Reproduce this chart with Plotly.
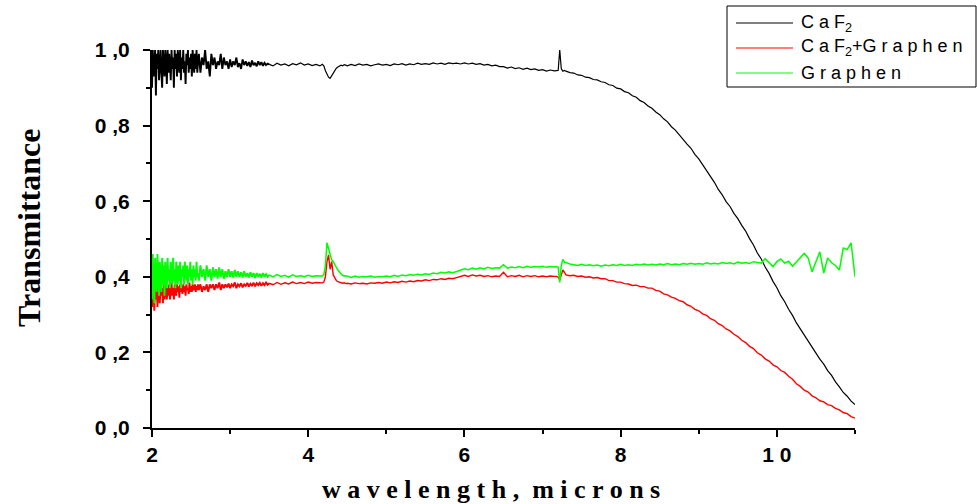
import numpy as np
import plotly.graph_objects as go

# Wavelength sampling in microns: finer steps where the spectra are noisy or sharp
wl_seg1a = np.linspace(2.00, 2.59, 60)
wl_seg1b = np.linspace(2.60, 3.48, 45)
wl_seg2 = np.linspace(3.50, 4.15, 14)
wl_seg3 = np.linspace(4.18, 4.48, 16)
wl_seg4 = np.linspace(4.50, 7.15, 54)
wl_seg5 = np.linspace(7.18, 7.28, 6)
wl_seg6 = np.linspace(7.30, 11.00, 75)

# ---- CaF2 substrate transmittance ----
caf2_seg1a = [
    0.90, 1.00, 0.93, 0.97, 1.00, 0.88, 0.99, 0.95, 1.00, 0.92,
    0.98, 1.00, 0.94, 0.90, 1.00, 0.96, 0.93, 1.00, 0.97, 0.91,
    1.00, 0.94, 0.99, 0.96, 0.92, 1.00, 0.95, 0.98, 0.90, 1.00,
    0.95, 0.99, 0.93, 1.00, 0.96, 0.94, 1.00, 0.92, 0.98, 0.95,
    1.00, 0.94, 0.97, 0.91, 0.99, 0.96, 1.00, 0.94, 0.98, 0.95,
    0.99, 0.93, 1.00, 0.96, 0.94, 0.99, 0.95, 1.00, 0.94, 0.97]
caf2_seg1b = [
    0.99, 0.94, 0.98, 0.96, 1.00, 0.95, 0.97, 0.93, 0.99, 0.96,
    0.98, 0.95, 0.97, 0.96, 0.99, 0.95, 0.98, 0.96, 0.97, 0.95,
    0.975, 0.955, 0.97, 0.96, 0.98, 0.955, 0.965, 0.95, 0.975, 0.96,
    0.97, 0.958, 0.968, 0.955, 0.972, 0.96, 0.966, 0.957, 0.97, 0.96,
    0.968, 0.958, 0.966, 0.96, 0.964]
caf2_seg2 = [0.962, 0.958, 0.965, 0.960, 0.963, 0.958, 0.964, 0.961, 0.966, 0.960,
             0.963, 0.959, 0.962, 0.958]
caf2_seg3 = [0.962, 0.958, 0.945, 0.935, 0.928, 0.925, 0.932, 0.940, 0.948, 0.952,
             0.955, 0.957, 0.960, 0.958, 0.961, 0.960]
caf2_seg4 = [
    0.958, 0.962, 0.959, 0.963, 0.960, 0.962, 0.958, 0.961, 0.963, 0.960,
    0.962, 0.959, 0.963, 0.961, 0.964, 0.960, 0.963, 0.961, 0.965, 0.962,
    0.964, 0.962, 0.966, 0.963, 0.965, 0.962, 0.966, 0.964, 0.965, 0.963,
    0.966, 0.963, 0.965, 0.962, 0.964, 0.960, 0.962, 0.958, 0.960, 0.956,
    0.956, 0.952, 0.955, 0.951, 0.953, 0.949, 0.952, 0.948, 0.950, 0.946,
    0.948, 0.944, 0.947, 0.945]
caf2_seg5 = [0.945, 0.946, 1.00, 0.950, 0.944, 0.946]
caf2_seg6 = [
    0.944, 0.940, 0.939, 0.934, 0.933, 0.928, 0.927, 0.922, 0.921, 0.916,
    0.914, 0.908, 0.906, 0.899, 0.897, 0.890, 0.887, 0.879, 0.875, 0.866,
    0.861, 0.852, 0.846, 0.836, 0.829, 0.818, 0.810, 0.797, 0.788, 0.775,
    0.765, 0.751, 0.740, 0.724, 0.712, 0.696, 0.683, 0.665, 0.650, 0.631,
    0.617, 0.599, 0.586, 0.568, 0.554, 0.536, 0.521, 0.501, 0.484, 0.463,
    0.447, 0.426, 0.409, 0.388, 0.371, 0.350, 0.334, 0.314, 0.298, 0.278,
    0.262, 0.244, 0.230, 0.212, 0.199, 0.182, 0.169, 0.152, 0.139, 0.122,
    0.109, 0.094, 0.084, 0.071, 0.062]

# ---- CaF2 + graphene transmittance ----
caf2_gr_seg1a = [
    0.32, 0.39, 0.35, 0.31, 0.40, 0.34, 0.37, 0.32, 0.38, 0.35,
    0.33, 0.38, 0.35, 0.37, 0.33, 0.385, 0.34, 0.36, 0.38, 0.34,
    0.37, 0.35, 0.38, 0.34, 0.36, 0.385, 0.35, 0.37, 0.34, 0.38,
    0.36, 0.35, 0.38, 0.36, 0.375, 0.345, 0.38, 0.36, 0.37, 0.355,
    0.38, 0.36, 0.375, 0.35, 0.38, 0.365, 0.37, 0.355, 0.385, 0.36,
    0.375, 0.36, 0.38, 0.365, 0.37, 0.38, 0.36, 0.375, 0.365, 0.38]
caf2_gr_seg1b = [
    0.365, 0.38, 0.36, 0.375, 0.365, 0.38, 0.36, 0.38, 0.37, 0.38,
    0.365, 0.38, 0.37, 0.385, 0.365, 0.38, 0.37, 0.38, 0.372, 0.382,
    0.37, 0.38, 0.375, 0.385, 0.37, 0.38, 0.375, 0.383, 0.372, 0.38,
    0.376, 0.384, 0.374, 0.382, 0.377, 0.384, 0.375, 0.383, 0.378, 0.384,
    0.376, 0.383, 0.378, 0.385, 0.379]
caf2_gr_seg2 = [0.383, 0.379, 0.385, 0.380, 0.384, 0.381, 0.386, 0.382, 0.385, 0.382,
                0.386, 0.383, 0.385, 0.384]
caf2_gr_seg3 = [0.384, 0.386, 0.400, 0.440, 0.458, 0.420, 0.440, 0.405, 0.395, 0.390,
                0.387, 0.385, 0.384, 0.383, 0.384, 0.382]
caf2_gr_seg4 = [
    0.383, 0.381, 0.384, 0.382, 0.383, 0.381, 0.384, 0.383, 0.385, 0.383,
    0.386, 0.384, 0.387, 0.385, 0.388, 0.386, 0.389, 0.387, 0.390, 0.389,
    0.392, 0.390, 0.393, 0.392, 0.395, 0.393, 0.396, 0.395, 0.398, 0.402,
    0.404, 0.401, 0.405, 0.402, 0.404, 0.401, 0.403, 0.400, 0.402, 0.401,
    0.412, 0.400, 0.403, 0.401, 0.404, 0.400, 0.403, 0.401, 0.403, 0.400,
    0.402, 0.400, 0.402, 0.401]
caf2_gr_seg5 = [0.401, 0.399, 0.392, 0.405, 0.418, 0.412]
caf2_gr_seg6 = [
    0.405, 0.403, 0.404, 0.401, 0.402, 0.399, 0.400, 0.397, 0.398, 0.395,
    0.395, 0.390, 0.390, 0.386, 0.386, 0.382, 0.381, 0.377, 0.378, 0.374,
    0.374, 0.370, 0.370, 0.364, 0.362, 0.355, 0.352, 0.346, 0.343, 0.337,
    0.334, 0.326, 0.322, 0.314, 0.310, 0.302, 0.298, 0.289, 0.285, 0.276,
    0.271, 0.262, 0.257, 0.248, 0.242, 0.232, 0.226, 0.216, 0.210, 0.199,
    0.193, 0.183, 0.177, 0.167, 0.162, 0.152, 0.147, 0.137, 0.129, 0.117,
    0.110, 0.100, 0.095, 0.085, 0.080, 0.072, 0.069, 0.062, 0.059, 0.052,
    0.048, 0.041, 0.038, 0.030, 0.026]

# ---- Graphene transmittance ----
graphene_seg1a = [
    0.34, 0.46, 0.38, 0.33, 0.45, 0.41, 0.36, 0.46, 0.39, 0.35,
    0.44, 0.40, 0.36, 0.45, 0.38, 0.43, 0.35, 0.44, 0.41, 0.37,
    0.45, 0.39, 0.42, 0.37, 0.44, 0.40, 0.38, 0.45, 0.39, 0.42,
    0.37, 0.44, 0.40, 0.38, 0.43, 0.39, 0.44, 0.37, 0.42, 0.40,
    0.43, 0.38, 0.44, 0.40, 0.39, 0.43, 0.38, 0.42, 0.40, 0.44,
    0.39, 0.42, 0.38, 0.43, 0.40, 0.42, 0.39, 0.44, 0.40, 0.41]
graphene_seg1b = [
    0.39, 0.43, 0.40, 0.42, 0.39, 0.43, 0.40, 0.42, 0.39, 0.425,
    0.40, 0.42, 0.395, 0.425, 0.40, 0.42, 0.395, 0.415, 0.40, 0.42,
    0.40, 0.415, 0.398, 0.418, 0.40, 0.415, 0.40, 0.412, 0.398, 0.415,
    0.40, 0.41, 0.398, 0.412, 0.40, 0.41, 0.397, 0.41, 0.40, 0.408,
    0.398, 0.41, 0.40, 0.407, 0.40]
graphene_seg2 = [0.405, 0.400, 0.406, 0.401, 0.404, 0.399, 0.405, 0.401, 0.403, 0.400,
                 0.404, 0.401, 0.403, 0.402]
graphene_seg3 = [0.402, 0.405, 0.430, 0.490, 0.475, 0.465, 0.445, 0.440, 0.430, 0.425,
                 0.418, 0.412, 0.408, 0.404, 0.402, 0.403]
graphene_seg4 = [
    0.401, 0.398, 0.402, 0.399, 0.401, 0.400, 0.402, 0.399, 0.401, 0.400,
    0.402, 0.400, 0.404, 0.401, 0.405, 0.403, 0.406, 0.404, 0.407, 0.405,
    0.408, 0.406, 0.410, 0.408, 0.412, 0.410, 0.413, 0.411, 0.414, 0.418,
    0.421, 0.419, 0.423, 0.420, 0.424, 0.421, 0.425, 0.422, 0.424, 0.423,
    0.432, 0.423, 0.426, 0.424, 0.427, 0.424, 0.428, 0.425, 0.427, 0.426,
    0.428, 0.425, 0.427, 0.426]
graphene_seg5 = [0.427, 0.425, 0.385, 0.430, 0.446, 0.438]
graphene_seg6 = [
    0.438, 0.434, 0.432, 0.430, 0.433, 0.430, 0.432, 0.429, 0.431, 0.428,
    0.431, 0.429, 0.432, 0.430, 0.433, 0.430, 0.432, 0.430, 0.433, 0.431,
    0.434, 0.431, 0.433, 0.431, 0.434, 0.432, 0.435, 0.432, 0.434, 0.432,
    0.435, 0.433, 0.436, 0.433, 0.435, 0.433, 0.437, 0.434, 0.436, 0.434,
    0.438, 0.435, 0.437, 0.434, 0.439, 0.436, 0.438, 0.435, 0.440, 0.437,
    0.436, 0.448, 0.438, 0.427, 0.440, 0.447, 0.436, 0.441, 0.428, 0.440,
    0.453, 0.462, 0.450, 0.413, 0.440, 0.466, 0.410, 0.450, 0.437, 0.430,
    0.418, 0.476, 0.472, 0.490, 0.400]

# Axis ticks
x_tickvals = [2, 4, 6, 8, 10]
x_ticktext = ["2", "4", "6", "8", "1 0"]
x_minor = [3, 5, 7, 9, 11]
y_tickvals = [0.0, 0.2, 0.4, 0.6, 0.8, 1.0]
y_ticktext = ["0 ,0", "0 ,2", "0 ,4", "0 ,6", "0 ,8", "1 ,0"]
y_minor = [0.1, 0.3, 0.5, 0.7, 0.9]

# Legend entries and series colours
legend_labels = ["C a F<sub>2</sub>", "C a F<sub>2</sub>+G r a p h e n", "G r a p h e n"]
series_colors = ["#000000", "#ff0000", "#00ff00"]
series_widths = [1.2, 1.4, 1.5]   # smooth part of each spectrum
noisy_widths = [1.9, 1.9, 1.9]    # dense, noisy short-wavelength part

wavelength = np.concatenate([wl_seg1a, wl_seg1b, wl_seg2, wl_seg3, wl_seg4, wl_seg5, wl_seg6])
caf2 = caf2_seg1a + caf2_seg1b + caf2_seg2 + caf2_seg3 + caf2_seg4 + caf2_seg5 + caf2_seg6
caf2_gr = (caf2_gr_seg1a + caf2_gr_seg1b + caf2_gr_seg2 + caf2_gr_seg3 + caf2_gr_seg4
           + caf2_gr_seg5 + caf2_gr_seg6)
graphene = (graphene_seg1a + graphene_seg1b + graphene_seg2 + graphene_seg3 + graphene_seg4
            + graphene_seg5 + graphene_seg6)
n_noisy = len(wl_seg1a) + len(wl_seg1b)

W, H = 977, 504
L, R, T, B = 152, 122, 50, 76
plot_w, plot_h = W - L - R, H - T - B


def px(xpix):
    return (xpix - L) / plot_w


def py(ypix):
    return (H - B - ypix) / plot_h


fig = go.Figure()
for ys, name, col, lw, nw in zip([caf2, caf2_gr, graphene], legend_labels, series_colors,
                                 series_widths, noisy_widths):
    ys = np.asarray(ys)
    # noisy short-wavelength stretch, then the rest of the spectrum
    fig.add_trace(go.Scatter(x=wavelength[:n_noisy + 1], y=ys[:n_noisy + 1], mode="lines",
                             name=name, line=dict(color=col, width=nw), showlegend=False,
                             hoverinfo="skip"))
    fig.add_trace(go.Scatter(x=wavelength[n_noisy:], y=ys[n_noisy:], mode="lines",
                             name=name, line=dict(color=col, width=lw), showlegend=False,
                             hoverinfo="skip"))

tick_font = dict(family="Liberation Sans, Arial", size=21, color="black", weight="bold")
fig.update_xaxes(range=[2, 11], showline=True, linecolor="black", linewidth=1.5,
                 ticks="outside", ticklen=7, tickwidth=1.5, tickcolor="black",
                 tickvals=x_tickvals, ticktext=x_ticktext, tickfont=tick_font,
                 minor=dict(ticks="outside", ticklen=4, tickwidth=1.5, tickcolor="black",
                            tickvals=x_minor),
                 showgrid=False, zeroline=False)
fig.update_yaxes(range=[0, 1.0], showline=True, linecolor="black", linewidth=2,
                 ticks="outside", ticklen=7, tickwidth=1.5, tickcolor="black",
                 tickvals=y_tickvals, ticktext=y_ticktext, tickfont=tick_font,
                 ticklabelstandoff=9,
                 minor=dict(ticks="outside", ticklen=4, tickwidth=1.5, tickcolor="black",
                            tickvals=y_minor),
                 showgrid=False, zeroline=False)

# Axis titles
fig.add_annotation(text="w a v e l e n g t h ,  m i c r o n s", xref="paper", yref="paper",
                   x=px(491), y=py(489), xanchor="center", yanchor="middle", showarrow=False,
                   font=dict(family="Liberation Serif, Times New Roman", size=26,
                             color="black", weight="bold"))
fig.add_annotation(text="Transmittance", xref="paper", yref="paper",
                   x=px(29), y=py(228), xanchor="center", yanchor="middle", showarrow=False,
                   textangle=-90,
                   font=dict(family="Liberation Serif, Times New Roman", size=32,
                             color="black", weight="bold"))

# Boxed legend in the upper right corner
fig.add_shape(type="rect", xref="paper", yref="paper",
              x0=px(727), x1=px(976), y0=py(87), y1=py(6),
              line=dict(color="black", width=1), fillcolor="white", layer="above")
for i, (lab, col) in enumerate(zip(legend_labels, series_colors)):
    yrow = 23 + 25 * i
    fig.add_shape(type="line", xref="paper", yref="paper",
                  x0=px(736), x1=px(793), y0=py(yrow), y1=py(yrow),
                  line=dict(color=col, width=1), layer="above")
    fig.add_annotation(text=lab, xref="paper", yref="paper", x=px(799), y=py(yrow),
                       xanchor="left", yanchor="middle", showarrow=False,
                       font=dict(family="Liberation Sans, Arial", size=18, color="black"))

fig.update_layout(width=W, height=H, margin=dict(l=L, r=R, t=T, b=B),
                  plot_bgcolor="white", paper_bgcolor="white", showlegend=False)

fig.write_html("out.html")
